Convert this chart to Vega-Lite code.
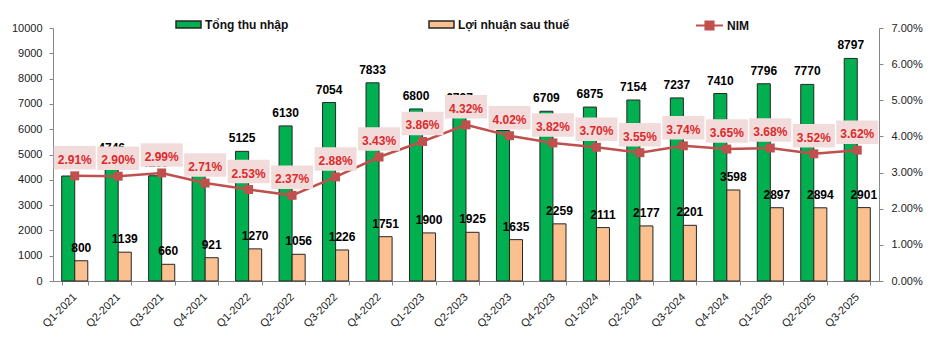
{
  "$schema": "https://vega.github.io/schema/vega-lite/v6.json",
  "width": 826,
  "height": 253,
  "autosize": {"type": "none"},
  "padding": {"left": 53, "top": 28, "right": 55, "bottom": 74},
  "background": "white",
  "config": {
    "view": {"stroke": null},
    "font": "Liberation Sans",
    "axis": {
      "grid": false,
      "title": null,
      "domainColor": "#868686",
      "tickColor": "#868686",
      "tickSize": 4,
      "labelFont": "Liberation Sans",
      "labelFontSize": 11,
      "labelColor": "#222222"
    },
    "legend": {"padding": 0}
  },
  "datasets": {
    "bars": [
      {"q": "Q1-2021", "series": "Tổng thu nhập", "value": 4150},
      {"q": "Q1-2021", "series": "Lợi nhuận sau thuế", "value": 800},
      {"q": "Q2-2021", "series": "Tổng thu nhập", "value": 4746},
      {"q": "Q2-2021", "series": "Lợi nhuận sau thuế", "value": 1139},
      {"q": "Q3-2021", "series": "Tổng thu nhập", "value": 4160},
      {"q": "Q3-2021", "series": "Lợi nhuận sau thuế", "value": 660},
      {"q": "Q4-2021", "series": "Tổng thu nhập", "value": 4200},
      {"q": "Q4-2021", "series": "Lợi nhuận sau thuế", "value": 921},
      {"q": "Q1-2022", "series": "Tổng thu nhập", "value": 5125},
      {"q": "Q1-2022", "series": "Lợi nhuận sau thuế", "value": 1270},
      {"q": "Q2-2022", "series": "Tổng thu nhập", "value": 6130},
      {"q": "Q2-2022", "series": "Lợi nhuận sau thuế", "value": 1056},
      {"q": "Q3-2022", "series": "Tổng thu nhập", "value": 7054},
      {"q": "Q3-2022", "series": "Lợi nhuận sau thuế", "value": 1226},
      {"q": "Q4-2022", "series": "Tổng thu nhập", "value": 7833},
      {"q": "Q4-2022", "series": "Lợi nhuận sau thuế", "value": 1751},
      {"q": "Q1-2023", "series": "Tổng thu nhập", "value": 6800},
      {"q": "Q1-2023", "series": "Lợi nhuận sau thuế", "value": 1900},
      {"q": "Q2-2023", "series": "Tổng thu nhập", "value": 6727},
      {"q": "Q2-2023", "series": "Lợi nhuận sau thuế", "value": 1925},
      {"q": "Q3-2023", "series": "Tổng thu nhập", "value": 5950},
      {"q": "Q3-2023", "series": "Lợi nhuận sau thuế", "value": 1635},
      {"q": "Q4-2023", "series": "Tổng thu nhập", "value": 6709},
      {"q": "Q4-2023", "series": "Lợi nhuận sau thuế", "value": 2259},
      {"q": "Q1-2024", "series": "Tổng thu nhập", "value": 6875},
      {"q": "Q1-2024", "series": "Lợi nhuận sau thuế", "value": 2111},
      {"q": "Q2-2024", "series": "Tổng thu nhập", "value": 7154},
      {"q": "Q2-2024", "series": "Lợi nhuận sau thuế", "value": 2177},
      {"q": "Q3-2024", "series": "Tổng thu nhập", "value": 7237},
      {"q": "Q3-2024", "series": "Lợi nhuận sau thuế", "value": 2201},
      {"q": "Q4-2024", "series": "Tổng thu nhập", "value": 7410},
      {"q": "Q4-2024", "series": "Lợi nhuận sau thuế", "value": 3598},
      {"q": "Q1-2025", "series": "Tổng thu nhập", "value": 7796},
      {"q": "Q1-2025", "series": "Lợi nhuận sau thuế", "value": 2897},
      {"q": "Q2-2025", "series": "Tổng thu nhập", "value": 7770},
      {"q": "Q2-2025", "series": "Lợi nhuận sau thuế", "value": 2894},
      {"q": "Q3-2025", "series": "Tổng thu nhập", "value": 8797},
      {"q": "Q3-2025", "series": "Lợi nhuận sau thuế", "value": 2901}
    ],
    "nim": [
      {"q": "Q1-2021", "nim": 0.0291},
      {"q": "Q2-2021", "nim": 0.0290},
      {"q": "Q3-2021", "nim": 0.0299},
      {"q": "Q4-2021", "nim": 0.0271},
      {"q": "Q1-2022", "nim": 0.0253},
      {"q": "Q2-2022", "nim": 0.0237},
      {"q": "Q3-2022", "nim": 0.0288},
      {"q": "Q4-2022", "nim": 0.0343},
      {"q": "Q1-2023", "nim": 0.0386},
      {"q": "Q2-2023", "nim": 0.0432},
      {"q": "Q3-2023", "nim": 0.0402},
      {"q": "Q4-2023", "nim": 0.0382},
      {"q": "Q1-2024", "nim": 0.0370},
      {"q": "Q2-2024", "nim": 0.0355},
      {"q": "Q3-2024", "nim": 0.0374},
      {"q": "Q4-2024", "nim": 0.0365},
      {"q": "Q1-2025", "nim": 0.0368},
      {"q": "Q2-2025", "nim": 0.0352},
      {"q": "Q3-2025", "nim": 0.0362}
    ]
  },
  "layer": [
    {
      "data": {"name": "bars"},
      "encoding": {
        "x": {
          "field": "q",
          "type": "nominal",
          "sort": null,
          "scale": {"paddingInner": 0.4, "paddingOuter": 0.2},
          "axis": {
            "labelAngle": -45,
            "labelAlign": "right",
            "labelBaseline": "middle",
            "labelPadding": 10,
            "tickBand": "extent"
          }
        },
        "xOffset": {
          "field": "series",
          "type": "nominal",
          "sort": ["Tổng thu nhập", "Lợi nhuận sau thuế"],
          "scale": {"paddingInner": 0, "paddingOuter": 0}
        },
        "y": {
          "field": "value",
          "type": "quantitative",
          "scale": {"domain": [0, 10000], "nice": false},
          "axis": {
            "values": [0, 1000, 2000, 3000, 4000, 5000, 6000, 7000, 8000, 9000, 10000],
            "format": "d",
            "labelPadding": 7
          }
        }
      },
      "layer": [
        {
          "mark": {"type": "bar", "stroke": "#262626", "strokeWidth": 1},
          "encoding": {
            "color": {
              "field": "series",
              "type": "nominal",
              "scale": {"domain": ["Tổng thu nhập", "Lợi nhuận sau thuế"], "range": ["#00B050", "#FAC090"]},
              "legend": {
                "orient": "none",
                "legendX": 122,
                "legendY": -17,
                "direction": "horizontal",
                "title": null,
                "symbolType": "M-1,-0.28H1V0.28H-1Z",
                "symbolSize": 625,
                "symbolOpacity": 1,
                "columnPadding": 137,
                "labelOffset": 3,
                "labelFont": "Liberation Sans",
                "labelFontSize": 12,
                "labelFontWeight": "bold",
                "labelColor": "#111111",
                "encode": {"symbols": {"update": {"stroke": {"value": "#222222"}, "strokeWidth": {"value": 1}}}}
              }
            }
          }
        },
        {
          "mark": {"type": "text", "fontWeight": "bold", "fontSize": 12, "dy": -9, "baseline": "alphabetic", "color": "#000000"},
          "encoding": {"text": {"field": "value", "type": "quantitative", "format": "d"}}
        }
      ]
    },
    {
      "data": {"name": "nim"},
      "encoding": {
        "x": {"field": "q", "type": "nominal", "sort": null},
        "y": {
          "field": "nim",
          "type": "quantitative",
          "scale": {"domain": [0, 0.07], "nice": false},
          "axis": {
            "orient": "right",
            "format": ".2%",
            "values": [0, 0.01, 0.02, 0.03, 0.04, 0.05, 0.06, 0.07],
            "labelPadding": 8
          }
        }
      },
      "layer": [
        {
          "mark": {"type": "line", "strokeWidth": 2.5},
          "encoding": {
            "stroke": {
              "datum": "NIM",
              "type": "nominal",
              "scale": {"domain": ["NIM"], "range": ["#C0504D"]},
              "legend": {
                "orient": "none",
                "legendX": 642,
                "legendY": -17,
                "title": null,
                "symbolType": "M-1,0H1M-0.3,-0.3H0.3V0.3H-0.3Z",
                "symbolSize": 729,
                "symbolStrokeWidth": 2,
                "labelOffset": 3,
                "labelFont": "Liberation Sans",
                "labelFontSize": 12,
                "labelFontWeight": "bold",
                "labelColor": "#111111",
                "encode": {"symbols": {"update": {"fill": {"value": "#C0504D"}, "stroke": {"value": "#C0504D"}, "strokeWidth": {"value": 2}, "opacity": {"value": 1}}}}
              }
            }
          }
        },
        {
          "mark": {"type": "point", "shape": "square", "filled": true, "size": 80, "color": "#C0504D", "opacity": 1}
        },
        {
          "mark": {"type": "point", "shape": "M-1,-0.56H1V0.56H-1Z", "filled": true, "size": 1764, "color": "#F2DCDB", "opacity": 1, "strokeWidth": 0, "yOffset": -18}
        },
        {
          "mark": {"type": "text", "fontWeight": "bold", "fontSize": 12, "color": "#DC2A2C", "dy": -16, "baseline": "middle"},
          "encoding": {"text": {"field": "nim", "type": "quantitative", "format": ".2%"}}
        }
      ]
    }
  ],
  "resolve": {"scale": {"y": "independent"}}
}
